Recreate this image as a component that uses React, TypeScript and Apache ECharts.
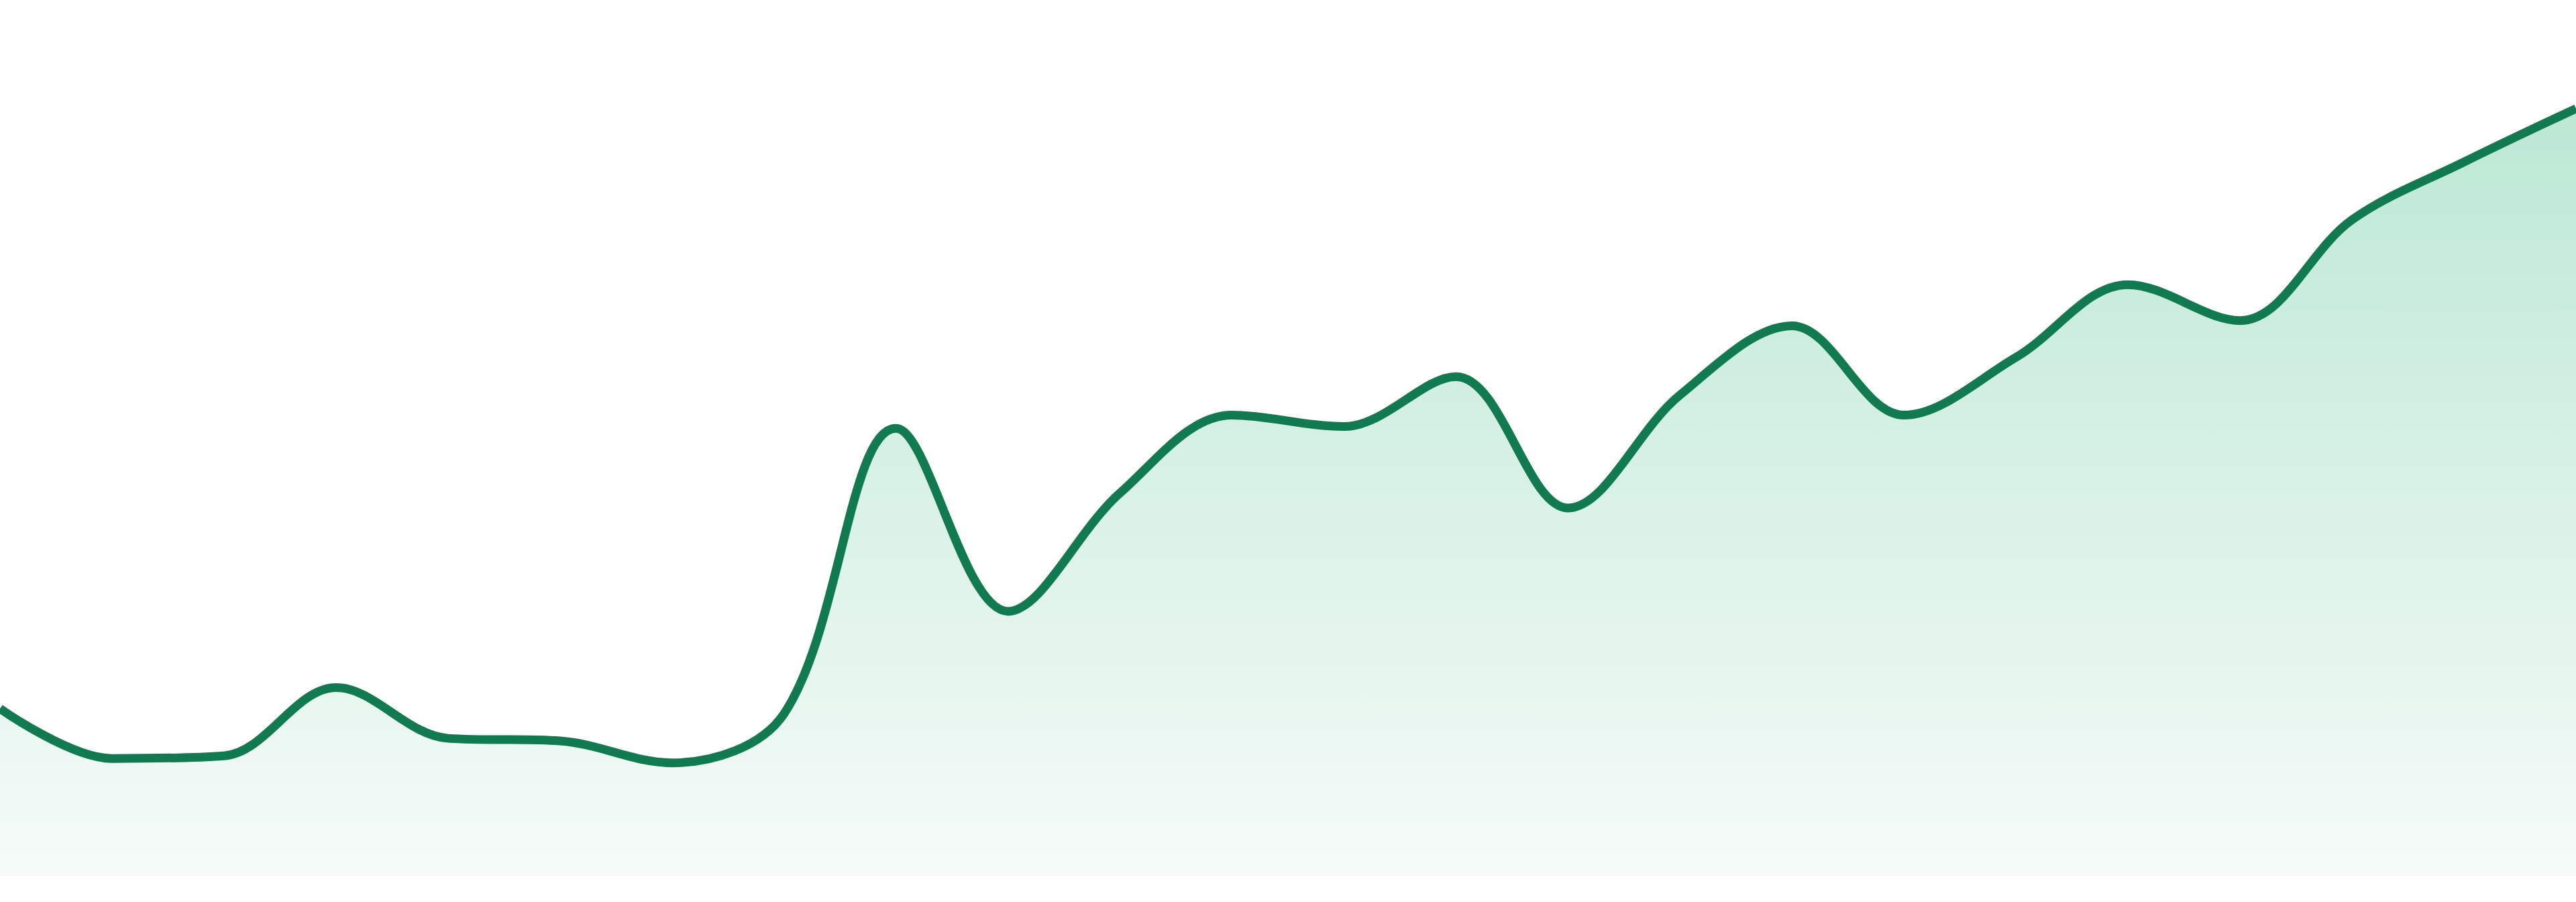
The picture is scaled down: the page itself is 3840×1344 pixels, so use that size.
import { useEffect, useRef } from "react";
import * as echarts from "echarts";

// 24 sample points, axis labels hidden in the reference
const days = [
  "01", "02", "03", "04", "05", "06", "07", "08", "09", "10", "11", "12",
  "13", "14", "15", "16", "17", "18", "19", "20", "21", "22", "23", "24"
];

const values = [
  19.1, 13.4, 13.7, 21.5, 15.7, 15.4, 12.9, 18.5, 51.1, 30.2, 43.7, 52.6,
  51.3, 57.0, 42.0, 54.9, 62.8, 52.6, 59.2, 67.5, 63.4, 74.9, 81.5, 87.6
];

const yMin = 0;
const yMax = 100;

export default function App() {
  const ref = useRef<HTMLDivElement | null>(null);

  useEffect(() => {
    if (!ref.current) return;
    const chart = echarts.init(ref.current, undefined, { renderer: "svg" });

    const option: echarts.EChartsOption = {
      animation: false,
      backgroundColor: "#ffffff",
      grid: { left: 0, right: 0, top: 0, bottom: 39, containLabel: false },
      xAxis: {
        type: "category",
        data: days,
        boundaryGap: false,
        show: false
      },
      yAxis: {
        type: "value",
        min: yMin,
        max: yMax,
        show: false,
        splitLine: { show: false }
      },
      series: [
        {
          type: "line",
          data: values,
          smooth: 0.35,
          showSymbol: false,
          symbol: "none",
          lineStyle: { color: "#127a50", width: 13 },
          areaStyle: {
            opacity: 1,
            color: new echarts.graphic.LinearGradient(0, 0, 0, 1, [
              { offset: 0, color: "#bce8d4" },
              { offset: 1, color: "#f6fbf9" }
            ])
          }
        }
      ]
    };

    chart.setOption(option);
    return () => {
      chart.dispose();
    };
  }, []);

  return (
    <div
      ref={ref}
      style={{ position: "fixed", left: 0, top: 0, width: 3840, height: 1344 }}
    />
  );
}
